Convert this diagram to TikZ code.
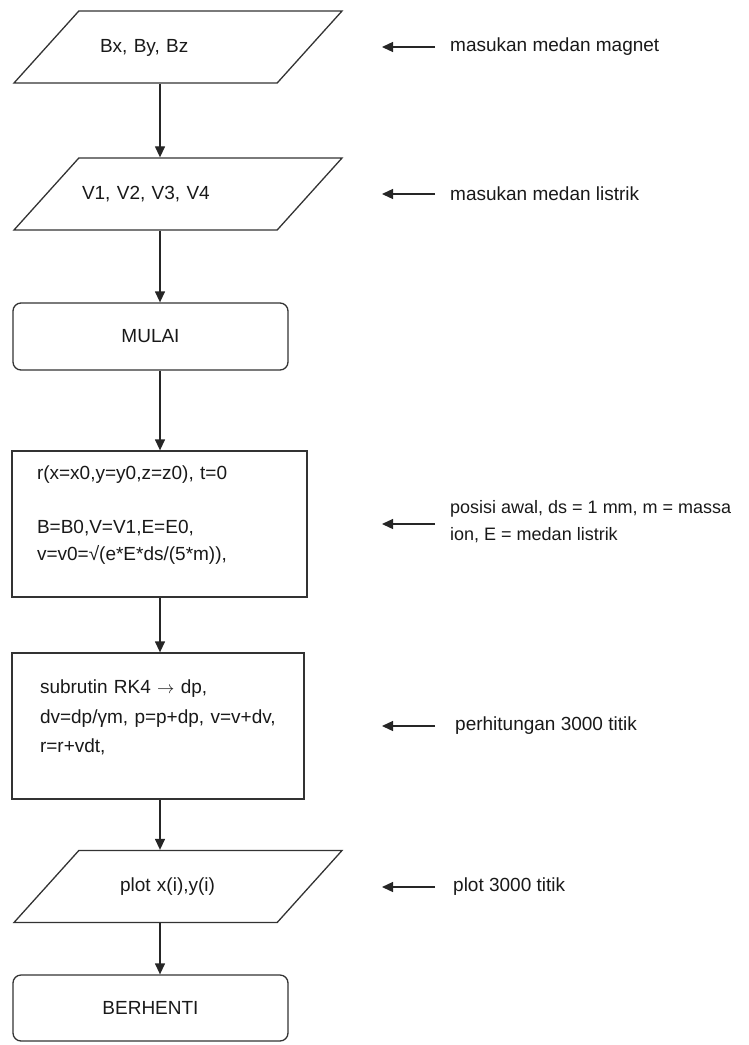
\documentclass[tikz,border=0pt]{standalone}
\usepackage{fontspec}
\setmainfont{Liberation Sans}
\usetikzlibrary{arrows.meta}
\usetikzlibrary{shapes.geometric}

\tikzset{
  io/.style={draw=black!80, line width=1.3pt, trapezium, trapezium left angle=48,
    trapezium right angle=132, trapezium stretches body, minimum width=328pt,
    text height=41pt, text depth=31pt, inner sep=0pt, align=left},
  term/.style={draw=black!80, line width=1.3pt, rounded corners=8pt,
    minimum width=275pt, inner sep=0pt},
  proc/.style={draw=black!80, line width=1.3pt, minimum height=146pt, inner sep=0pt, align=left},
  note/.style={anchor=west, inner sep=0pt, align=left},
  arr/.style={draw=black!85, line width=1.3pt, -{Triangle[length=11pt,width=10pt]}}
}

\begin{document}
\begin{tikzpicture}[x=1pt, y=-1pt, font=\fontsize{19}{27}\selectfont, text=black!90]
        \useasboundingbox (0,0) rectangle (748,1045);
        \coordinate (axis) at (160,0);

        % flowchart
        \node[io, text width=156pt] (inB) at (178,47) {Bx, By, Bz};
        \node[io, text width=192pt] (inV) at (178,194) {V1, V2, V3, V4};
        \node[term, minimum height=67pt] (start) at (150.5,336.5) {MULAI};
        \node[proc, minimum width=295pt, text width=245pt] (init) at (159.5,524)
            {r(x=x0,y=y0,z=z0), t=0\\[27pt]B=B0,V=V1,E=E0,\\v=v0=√(e*E*ds/(5*m)),\\[-6pt]\mbox{}};
        \node[proc, minimum width=292pt, text width=236pt] (rk4) at (158,726)
            {subrutin RK4 $\rightarrow$ dp,\\[3pt]\mbox{dv=dp/γm, p=p+dp, v=v+dv,}\\[2pt]r=r+vdt,\\[-8pt]\mbox{}};
        \node[io, text width=116pt] (plot) at (178,886.5) {plot x(i),y(i)};
        \node[term, minimum height=66pt] (stop) at (150.5,1008) {BERHENTI};

        \draw[arr] (inB.south -| axis) -- (inV.north -| axis);
        \draw[arr] (inV.south -| axis) -- (start.north -| axis);
        \draw[arr] (start.south -| axis) -- (init.north -| axis);
        \draw[arr] (init.south -| axis) -- (rk4.north -| axis);
        \draw[arr] (rk4.south -| axis) -- (plot.north -| axis);
        \draw[arr] (plot.south -| axis) -- (stop.north -| axis);

        % keterangan
        \node[note] (noteB) at (450,47) {masukan medan magnet};
        \node[note] (noteV) at (450,194) {masukan medan listrik};
        \node[note, font=\fontsize{18}{27}\selectfont] (noteInit) at (450,522)
            {posisi awal, ds = 1 mm, m = massa\\ion, E = medan listrik};
        \node[note] (noteRK) at (455,726) {perhitungan 3000 titik};
        \node[note] (notePlot) at (453,887) {plot 3000 titik};

        \draw[arr] ([xshift=-15pt]noteB.west) -- ([xshift=-68pt]noteB.west);
        \draw[arr] ([xshift=-15pt]noteV.west) -- ([xshift=-68pt]noteV.west);
        \draw[arr] ([xshift=-15pt,yshift=-2pt]noteInit.west) -- ([xshift=-68pt,yshift=-2pt]noteInit.west);
        \draw[arr] ([xshift=-20pt]noteRK.west) -- ([xshift=-73pt]noteRK.west);
        \draw[arr] ([xshift=-18pt]notePlot.west) -- ([xshift=-71pt]notePlot.west);
\end{tikzpicture}
\end{document}
